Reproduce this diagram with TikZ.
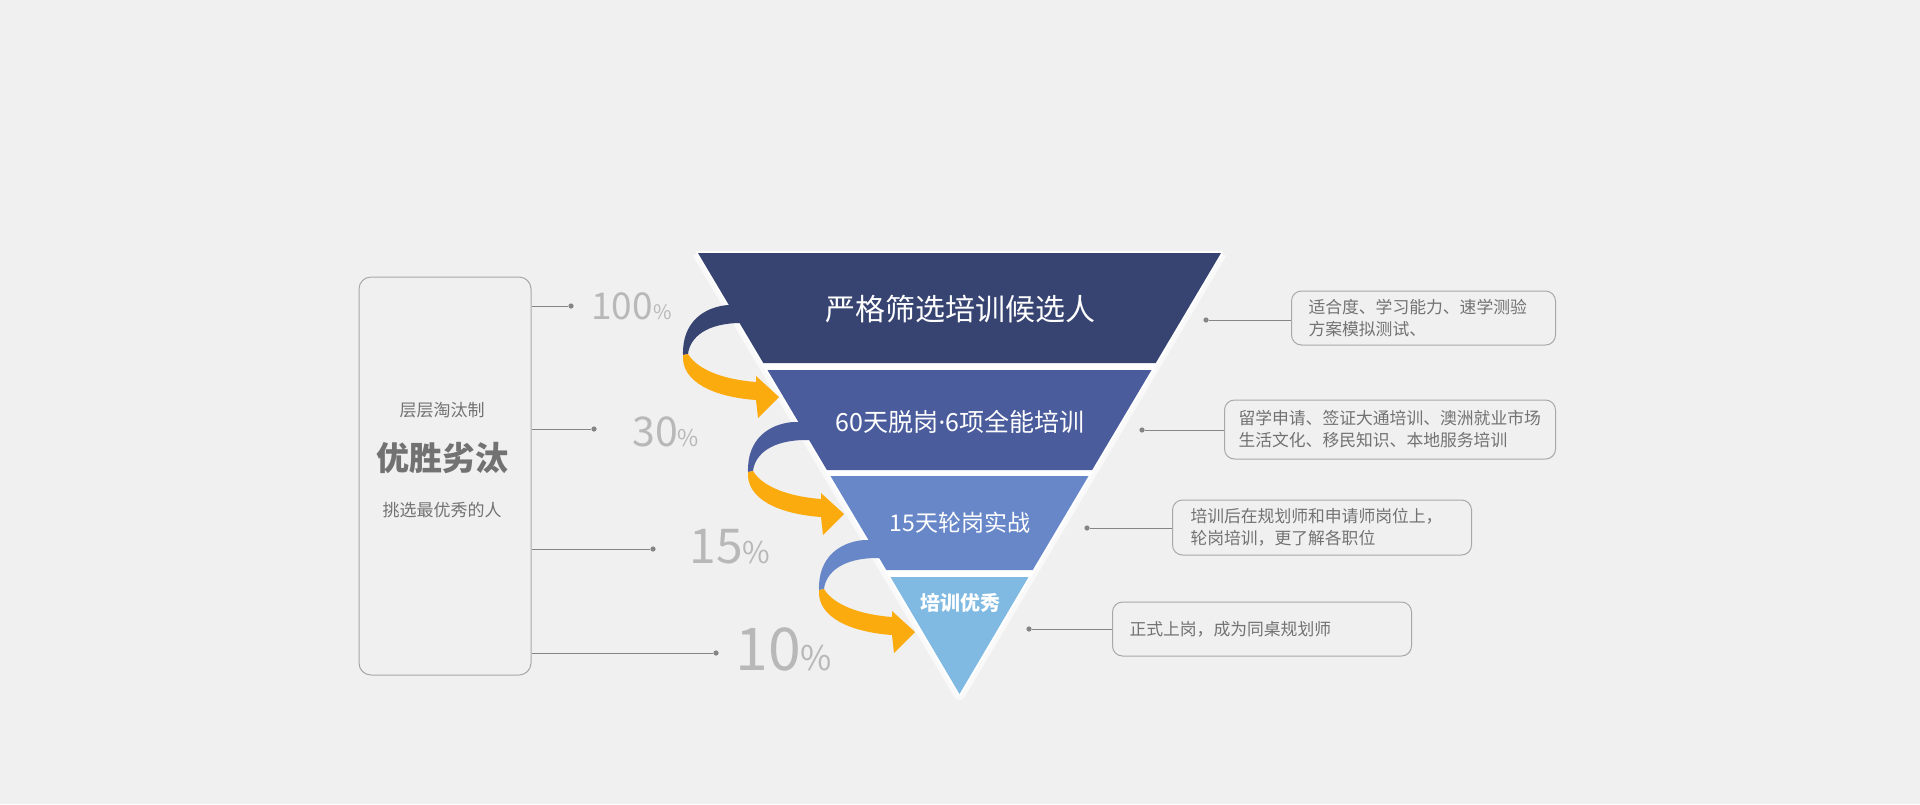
\documentclass[tikz,border=0pt]{standalone}
\usepackage{fontspec}
\setmainfont{Noto Sans CJK SC}
\newfontfamily\latinfont{Noto Sans}
\usetikzlibrary{positioning}

\definecolor{bggray}{HTML}{F0F0F0}
\definecolor{bandA}{HTML}{374472}
\definecolor{bandB}{HTML}{4A5C9C}
\definecolor{bandC}{HTML}{6787C9}
\definecolor{bandD}{HTML}{80BAE2}
\definecolor{ribbonorange}{HTML}{FBAB0E}
\definecolor{pctgray}{HTML}{B8B8B8}
\definecolor{boxgray}{HTML}{A8A8A8}
\definecolor{infogray}{HTML}{727272}
\definecolor{dotgray}{HTML}{858585}

\tikzset{
    pct/.style={anchor=west, inner sep=0pt, text=pctgray},
    infobox/.style={draw=boxgray, line width=0.5pt, rounded corners=5pt, anchor=west,
        align=left, text=infogray, inner ysep=0pt, font=\fontsize{8.4}{11}\selectfont},
    pin/.style={circle, fill=dotgray, inner sep=0pt, minimum size=2.6pt},
    lead/.style={draw=dotgray, line width=0.5pt},
    bandtext/.style={text=white, inner sep=0pt},
    ruletext/.style={text=infogray, inner sep=0pt, font=\fontsize{8.5}{8.5}\selectfont},
}

\begin{document}
\begin{tikzpicture}[x=0.5pt, y=-0.5pt]
    \fill[bggray] (0,0) rectangle (1920,804);
    \useasboundingbox (0,0) rectangle (1920,804);

    % imbuto: alone e fasce
    \draw[white, opacity=0.6, line width=6pt, line join=round] (698,253) -- (959.5,694) -- (1221,253);
    \filldraw[white, line width=2pt, line join=round] (698,253) -- (1221,253) -- (959.5,694) -- cycle;
    \fill[bandA] (698,253) -- (1221,253) -- (1155.7,363) -- (763.3,363) -- cycle;
    \fill[bandB] (767.5,370) -- (1151.5,370) -- (1092.1,470) -- (826.9,470) -- cycle;
    \fill[bandC] (830.5,476) -- (1088.5,476) -- (1032.7,570) -- (886.3,570) -- cycle;
    \fill[bandD] (890.5,577) -- (1028.5,577) -- (959.5,694) -- cycle;

    \node[bandtext, font=\fontsize{15}{15}\selectfont] (stageA) at (960,309) {严格筛选培训候选人};
    \node[bandtext, font=\fontsize{12.5}{12.5}\selectfont] (stageB) at (960,422) {60天脱岗{\latinfont ·}6项全能培训};
    \node[bandtext, font=\fontsize{11.5}{11.5}\selectfont] (stageC) at (960,523) {15天轮岗实战};
    \node[bandtext, font=\fontsize{10}{10}\selectfont\bfseries] (stageD) at (960,603) {培训优秀};

    % nastri a spirale
    \foreach \tx/\ty/\col in {779/397/bandA, 844/514/bandB, 915/632/bandC} {
        \begin{scope}[shift={(\tx,\ty)}]
            \fill[\col] (-40,-92) -- (-51,-92) .. controls (-75,-90) and (-97,-75) .. (-96,-42)
                -- (-91,-43) .. controls (-89,-60) and (-72,-74) .. (-38,-74) -- (-28,-74) -- cycle;
            \fill[ribbonorange] (-96,-42) .. controls (-98,-15) and (-65,0) .. (-23,3)
                -- (-21,21) -- (0,0) -- (-23,-21) -- (-23,-15)
                .. controls (-50,-17) and (-80,-25) .. (-91,-43) -- cycle;
        \end{scope}
    }

    % sinistra: riquadro e percentuali
    \node[draw=boxgray, line width=0.5pt, rounded corners=6pt, minimum width=86pt, minimum height=199pt] (rule) at (445,476) {};
    \node[ruletext] (ruleA) at (442,410) {层层淘汰制};
    \node[ruletext, font=\fontsize{16.5}{16.5}\selectfont\bfseries] (ruleB) at (442,458) {优胜劣汰};
    \node[ruletext] (ruleC) at (442,510) {挑选最优秀的人};

    \node[pin] (p1) at (571,306) {};
    \node[pin] (p2) at (594,429) {};
    \node[pin] (p3) at (653,549) {};
    \node[pin] (p4) at (716,653) {};
    \foreach \p in {p1,p2,p3,p4}
        \draw[lead] (rule.east |- \p) -- (\p);

    \node[pct, font=\fontsize{18.5}{18.5}\selectfont] (rateA) at (591,306) {100{\fontsize{10}{10}\selectfont\%}};
    \node[pct, font=\fontsize{20.5}{20.5}\selectfont] (rateB) at (632,432) {30{\fontsize{11.5}{11.5}\selectfont\%}};
    \node[pct, font=\fontsize{24}{24}\selectfont] (rateC) at (689,547) {15{\fontsize{15}{15}\selectfont\%}};
    \node[pct, font=\fontsize{29.5}{29.5}\selectfont] (rateD) at (735,649) {10{\fontsize{17}{17}\selectfont\%}};

    % destra: descrizioni
    \node[infobox, text width=115pt, inner xsep=8.5pt, minimum height=27pt] (infoA) at (1291,318)
        {适合度、学习能力、速学测验\\方案模拟测试、};
    \node[infobox, text width=151.5pt, inner xsep=7pt, minimum height=29.5pt] (infoB) at (1224,429.5)
        {留学申请、签证大通培训、澳洲就业市场\\生活文化、移民知识、本地服务培训};
    \node[infobox, text width=131.5pt, inner xsep=9pt, minimum height=27.5pt] (infoC) at (1172,527.5)
        {培训后在规划师和申请师岗位上，\\轮岗培训，更了解各职位};
    \node[infobox, text width=132.5pt, inner xsep=8.5pt, minimum height=27pt] (infoD) at (1112,629)
        {正式上岗，成为同桌规划师};

    \node[pin] (q1) at (1206,320) {};
    \node[pin] (q2) at (1142,430) {};
    \node[pin] (q3) at (1087,528) {};
    \node[pin] (q4) at (1029,629) {};
    \draw[lead] (q1) -- (q1 -| infoA.west);
    \draw[lead] (q2) -- (q2 -| infoB.west);
    \draw[lead] (q3) -- (q3 -| infoC.west);
    \draw[lead] (q4) -- (q4 -| infoD.west);
\end{tikzpicture}
\end{document}
